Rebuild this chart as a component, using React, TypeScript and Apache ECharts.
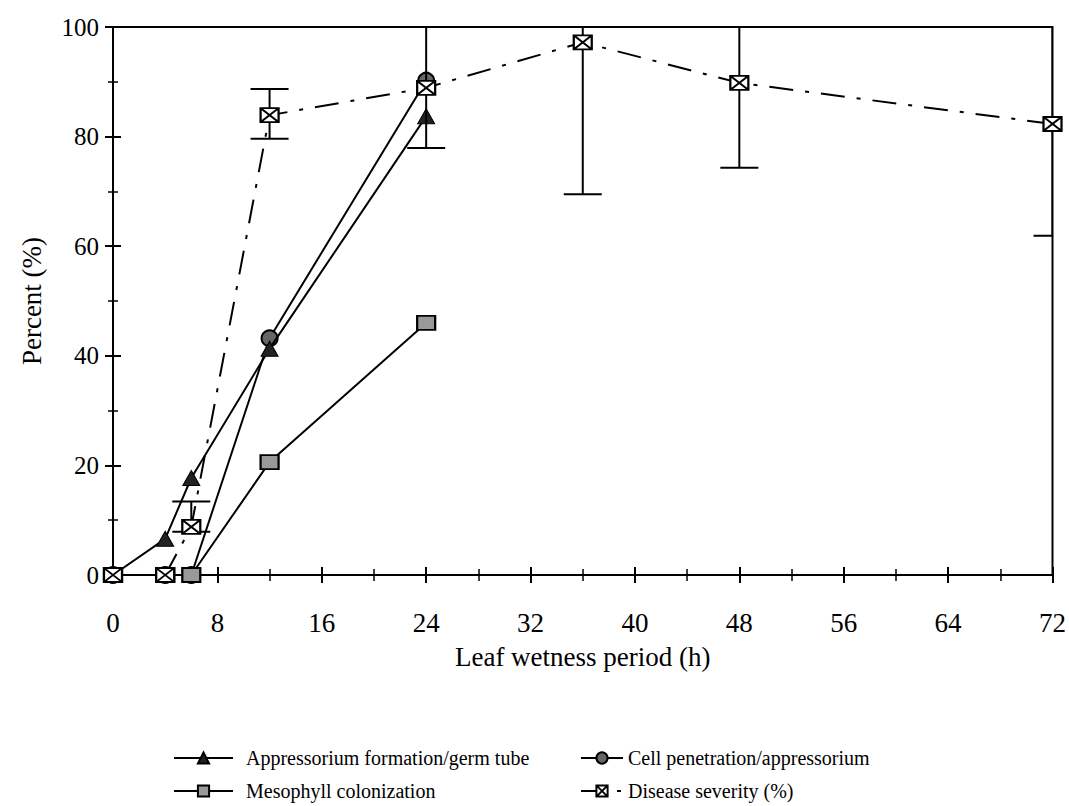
import React, { useEffect, useRef } from "react";
import * as echarts from "echarts";

const FONT = "'Liberation Serif', 'Times New Roman', serif";

const xTicks = [0, 8, 16, 24, 32, 40, 48, 56, 64, 72];
const yTicks = [0, 20, 40, 60, 80, 100];

const appHours = [0, 4, 6, 12, 24];
const appValues = [0, 6.6, 17.7, 41.3, 83.7];

const cellHours = [0, 4, 6, 12, 24];
const cellValues = [0, 0, 0, 43.2, 90.2];

const mesoHours = [0, 4, 6, 12, 24];
const mesoValues = [0, 0, 0, 20.6, 46.0];

const sevHours = [0, 4, 6, 12, 24, 36, 48, 72];
const sevValues = [0, 0, 8.8, 83.9, 88.9, 97.2, 89.8, 82.3];
const sevLow = [null, null, 7.9, 79.6, 77.9, 69.5, 74.3, 61.9];
const sevHigh = [null, null, 13.4, 88.7, 106, 106, 106, 106];

const seriesNames = [
  "Appressorium formation/germ tube",
  "Cell penetration/appressorium",
  "Mesophyll colonization",
  "Disease severity (%)",
];

export default function App() {
  const ref = useRef<HTMLDivElement>(null);
  useEffect(() => {
    if (!ref.current) return;
    const chart = echarts.init(ref.current, null, { renderer: "svg" });
    const black = "#000";
    const tickLine = { color: black, width: 2 };
    const xMin = xTicks[0];
    const xMax = xTicks[xTicks.length - 1];
    const yMin = yTicks[0];
    const yMax = yTicks[yTicks.length - 1];
    const xInterval = xTicks[1] - xTicks[0];
    const yInterval = yTicks[1] - yTicks[0];

    const zip = (xs: number[], ys: (number | null)[]) => xs.map((x, i) => [x, ys[i]]);

    const lineBase = {
      type: "line",
      xAxisIndex: 0,
      yAxisIndex: 0,
      showSymbol: true,
      symbolKeepAspect: false,
      lineStyle: { color: black, width: 2 },
    };

    const errData = sevHours
      .map((h, i) => [h, sevLow[i], sevHigh[i]])
      .filter((d) => d[1] != null);

    const legendText = { fontSize: 20, color: black, fontFamily: FONT };
    const mkLegend = (name: string, left: number, top: number, w: number, pad: number) => ({
      left,
      top,
      padding: 0,
      orient: "horizontal",
      itemWidth: w,
      itemHeight: 14,
      data: [name],
      textStyle: { ...legendText, padding: [0, 0, 0, pad] },
    });

    const option: any = {
      animation: false,
      textStyle: { fontFamily: FONT, color: black },
      grid: {
        left: 113,
        top: 27,
        right: 12,
        bottom: 231,
        show: true,
        borderColor: black,
        borderWidth: 2,
      },
      xAxis: [
        {
          type: "value",
          min: xMin,
          max: xMax,
          interval: xInterval,
          position: "bottom",
          axisLine: { lineStyle: { color: black, width: 2 } },
          axisTick: { length: 8, lineStyle: tickLine },
          minorTick: { show: true, splitNumber: 2, length: 6, lineStyle: { color: black, width: 1.5 } },
          splitLine: { show: false },
          axisLabel: { color: black, fontSize: 27, fontFamily: FONT, margin: 34 },
          name: "Leaf wetness period (h)",
          nameLocation: "middle",
          nameGap: 68,
          nameTextStyle: { color: black, fontSize: 27, fontFamily: FONT },
        },
        {
          type: "value",
          min: xMin,
          max: xMax,
          interval: xInterval,
          position: "bottom",
          axisLine: { show: false },
          axisTick: { inside: true, length: 8, lineStyle: tickLine },
          minorTick: { show: true, splitNumber: 2, length: 6, lineStyle: { color: black, width: 1.5 } },
          splitLine: { show: false },
          axisLabel: { show: false },
        },
      ],
      yAxis: [
        {
          type: "value",
          min: yMin,
          max: yMax,
          interval: yInterval,
          position: "left",
          axisLine: { show: true, lineStyle: { color: black, width: 2 } },
          axisTick: { show: true, length: 8, lineStyle: tickLine },
          minorTick: { show: true, splitNumber: 2, length: 5, lineStyle: { color: black, width: 1.5 } },
          splitLine: { show: false },
          axisLabel: { color: black, fontSize: 25, fontFamily: FONT, margin: 14 },
          name: "Percent (%)",
          nameLocation: "middle",
          nameGap: 68,
          nameTextStyle: { color: black, fontSize: 27, fontFamily: FONT },
        },
        {
          type: "value",
          min: yMin,
          max: yMax,
          interval: yInterval,
          position: "left",
          axisLine: { show: false },
          axisTick: { show: true, inside: true, length: 8, lineStyle: tickLine },
          minorTick: { show: true, splitNumber: 2, length: 5, lineStyle: { color: black, width: 1.5 } },
          splitLine: { show: false },
          axisLabel: { show: false },
        },
      ],
      legend: [
        mkLegend(seriesNames[0], 173, 748, 59, 8),
        mkLegend(seriesNames[2], 173, 781, 59, 8),
        mkLegend(seriesNames[1], 580, 748, 42, 0),
        mkLegend(seriesNames[3], 580, 781, 42, 0),
      ],
      series: [
        {
          ...lineBase,
          name: seriesNames[1],
          data: zip(cellHours, cellValues),
          symbol: "circle",
          symbolSize: 16,
          itemStyle: { color: "#666", borderColor: black, borderWidth: 2 },
          z: 2,
        },
        {
          ...lineBase,
          name: seriesNames[0],
          data: zip(appHours, appValues),
          symbol: "triangle",
          symbolSize: [17, 15],
          itemStyle: { color: "#222", borderColor: black, borderWidth: 1 },
          z: 3,
        },
        {
          ...lineBase,
          name: seriesNames[2],
          data: zip(mesoHours, mesoValues),
          symbol: "rect",
          symbolSize: [18, 14],
          itemStyle: { color: "#999", borderColor: black, borderWidth: 2 },
          z: 4,
        },
        {
          type: "custom",
          name: "errorbars",
          xAxisIndex: 0,
          yAxisIndex: 0,
          clip: true,
          z: 4,
          data: errData,
          encode: { x: 0, y: [1, 2] },
          renderItem: (params: any, api: any) => {
            const x = api.value(0);
            const lo = api.coord([x, api.value(1)]);
            const hi = api.coord([x, api.value(2)]);
            const hw = 19;
            const style = { stroke: black, lineWidth: 2 };
            return {
              type: "group",
              children: [
                { type: "line", shape: { x1: lo[0], y1: lo[1], x2: hi[0], y2: hi[1] }, style },
                { type: "line", shape: { x1: lo[0] - hw, y1: lo[1], x2: lo[0] + hw, y2: lo[1] }, style },
                { type: "line", shape: { x1: hi[0] - hw, y1: hi[1], x2: hi[0] + hw, y2: hi[1] }, style },
              ],
            };
          },
        },
        {
          ...lineBase,
          name: seriesNames[3],
          data: zip(sevHours, sevValues),
          symbol: "path://M0,0H18V14H0Z M0,0L18,14 M18,0L0,14",
          symbolSize: [18, 14],
          lineStyle: { color: black, width: 2, type: [24, 12, 4, 12] },
          itemStyle: { color: "#fff", borderColor: black, borderWidth: 2 },
          z: 5,
        },
      ],
    };
    chart.setOption(option);
    return () => chart.dispose();
  }, []);
  return (
    <div
      ref={ref}
      style={{ position: "fixed", left: 0, top: 0, width: 1069, height: 806, background: "#fff" }}
    />
  );
}
